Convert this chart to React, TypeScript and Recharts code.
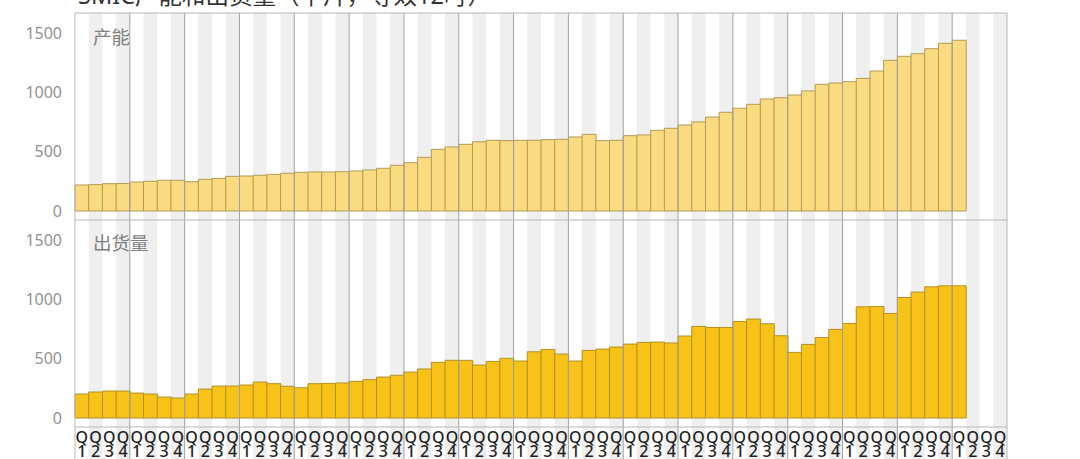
import { BarChart, Bar, XAxis, YAxis, ReferenceArea, ReferenceLine } from "recharts";

// SMIC capacity and shipments, thousand wafers (12-inch equivalent), 2004Q1 .. 2020Q1
const years = [2004, 2005, 2006, 2007, 2008, 2009, 2010, 2011, 2012, 2013, 2014, 2015, 2016, 2017, 2018, 2019, 2020];
const quarters = ["Q1", "Q2", "Q3", "Q4"];

const capacity = [
  219, 222, 230, 232, 244, 250, 259, 259, 247, 267, 275, 292, 295, 301, 309, 318,
  326, 329, 329, 331, 337, 346, 360, 385, 407, 452, 520, 540, 562, 584, 596, 593,
  596, 596, 601, 604, 624, 646, 593, 596, 635, 641, 680, 697, 725, 751, 792, 832,
  866, 899, 944, 955, 978, 1012, 1068, 1079, 1090, 1118, 1180, 1270, 1304, 1326, 1368, 1413,
  1439,
];

const shipments = [
  202, 219, 227, 227, 210, 202, 177, 168, 202, 244, 269, 269, 278, 303, 289, 267,
  255, 289, 292, 295, 309, 323, 345, 360, 387, 413, 469, 486, 486, 446, 477, 503,
  480, 558, 578, 539, 480, 570, 581, 598, 623, 637, 640, 632, 691, 772, 763, 763,
  814, 834, 794, 693, 553, 620, 679, 747, 797, 937, 940, 881, 1016, 1061, 1106, 1114,
  1114,
];

const yTicks = [0, 500, 1000, 1500];
const Y_MIN = -76;
const Y_MAX = 1669;

const categories = years.flatMap((y) => quarters.map((q) => `${y}${q}`));
const data = categories.map((cat, i) => ({
  cat,
  capacity: capacity[i] ?? null,
  shipments: shipments[i] ?? null,
}));

const stripeCats = categories.filter((c) => c.endsWith("Q2") || c.endsWith("Q4"));
const yearStarts = years.map((y) => `${y}Q1`);
const firstCat = categories[0];
const lastCat = categories[categories.length - 1];

const FONT = "'Noto Sans', 'Noto Sans CJK SC', sans-serif";
const GRID = "#b8b8b8";

// "Q" above the quarter number, one text per tick
const QuarterTick = ({ x, y, payload }: any) => {
  const q = String(payload.value).slice(-1);
  return (
    <text x={x} y={y + 8} textAnchor="middle" fontSize={16} fontWeight={500} fill="#1e1e1e" fontFamily={FONT}>
      <tspan x={x}>Q</tspan>
      <tspan x={x} dy={14}>{q}</tspan>
    </text>
  );
};

function Panel({ dataKey, fill, stroke, height, withAxis }: any) {
  const low = withAxis ? -360 : Y_MIN;
  return (
    <BarChart
      width={1080}
      height={height}
      data={data}
      margin={{ top: withAxis ? 0 : 13, right: 73, left: 0, bottom: 0 }}
      barCategoryGap={0}
      barGap={0}
    >
      <XAxis
        dataKey="cat"
        hide={!withAxis}
        height={32}
        interval={0}
        axisLine={false}
        tickLine={false}
        tick={<QuarterTick />}
      />
      <YAxis
        type="number"
        domain={[Y_MIN, Y_MAX]}
        ticks={yTicks}
        width={75}
        axisLine={false}
        tickLine={false}
        tickMargin={7}
        tick={{ fill: "#929292", fontSize: 16, fontFamily: FONT }}
      />
      {stripeCats.map((c) => (
        <ReferenceArea key={c} x1={c} x2={c} y1={low} y2={Y_MAX} ifOverflow="visible" fill="#efefef" fillOpacity={1} stroke="none" />
      ))}
      <Bar dataKey={dataKey} fill={fill} stroke={stroke} strokeWidth={1} isAnimationActive={false} />
      {yearStarts.map((c) => (
        <ReferenceLine
          key={c}
          segment={[{ x: c, y: low }, { x: c, y: Y_MAX }]}
          position="start"
          ifOverflow="visible"
          stroke={c === firstCat ? GRID : "#a2a2a2"}
          strokeWidth={1}
        />
      ))}
      <ReferenceLine
        segment={[{ x: lastCat, y: low }, { x: lastCat, y: Y_MAX }]}
        position="end"
        ifOverflow="visible"
        stroke={GRID}
      />
      <ReferenceLine y={Y_MAX} stroke={GRID} />
      <ReferenceLine y={Y_MIN} stroke={GRID} />
    </BarChart>
  );
}

export default function App() {
  return (
    <div style={{ position: "absolute", left: 0, top: 0, width: 1080, height: 459, overflow: "hidden", background: "#fff" }}>
      <div style={{ position: "absolute", left: 0, top: 0 }}>
        <Panel dataKey="capacity" fill="#fadb80" stroke="#b39a58" height={220} withAxis={false} />
      </div>
      <div style={{ position: "absolute", left: 0, top: 220 }}>
        <Panel dataKey="shipments" fill="#f7c318" stroke="#b39025" height={239} withAxis />
      </div>
      <svg width={1080} height={459} style={{ position: "absolute", left: 0, top: 0, pointerEvents: "none" }}>
        <text x={78} y={4} fontSize={23.5} fill="#333" fontFamily={FONT}>
          SMIC产能和出货量（千片，等效12吋）
        </text>
        <text x={93} y={44} fontSize={18.5} fill="#808080" fontFamily={FONT}>
          产能
        </text>
        <text x={93} y={250} fontSize={18.5} fill="#808080" fontFamily={FONT}>
          出货量
        </text>
      </svg>
    </div>
  );
}
